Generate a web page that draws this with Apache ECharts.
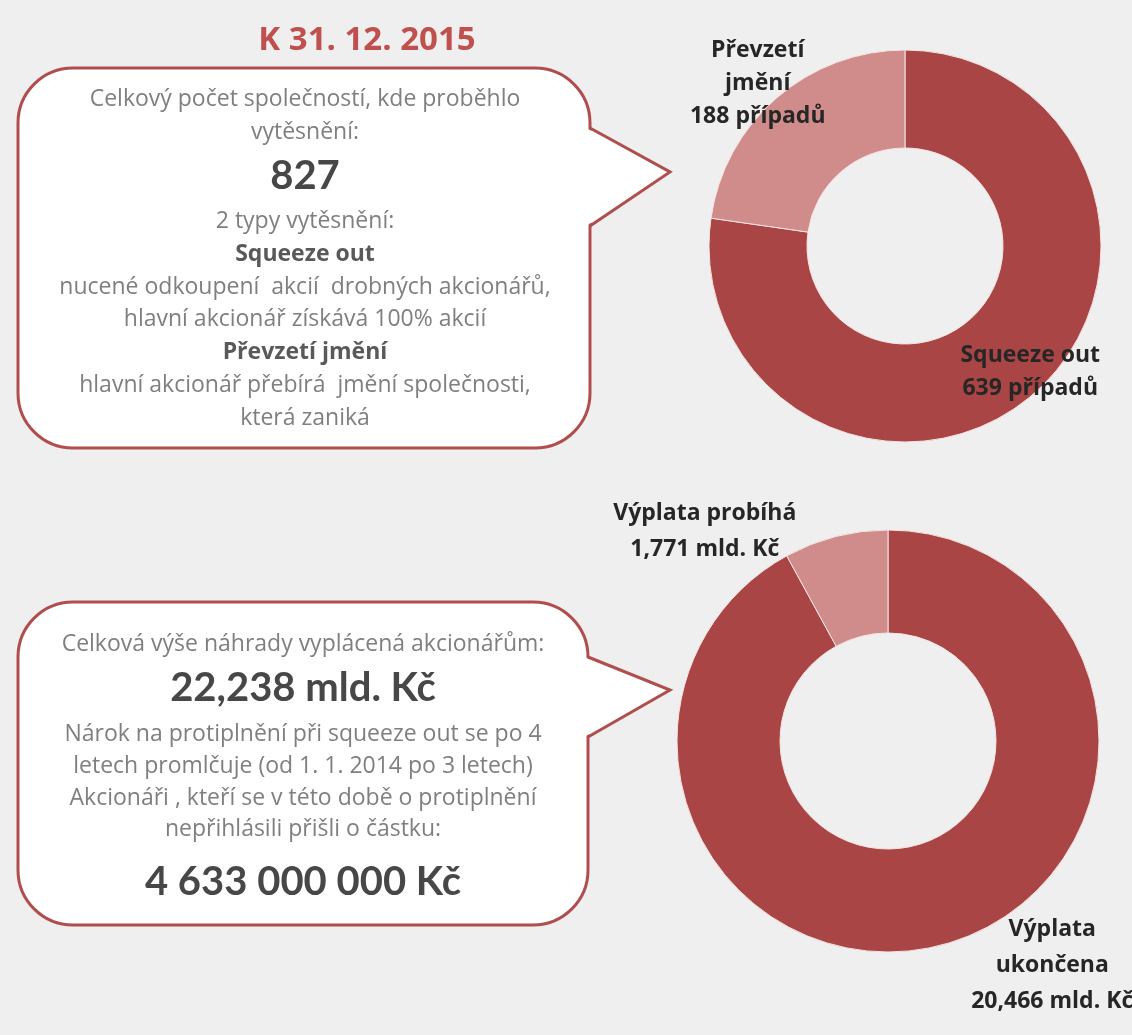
<!DOCTYPE html>
<html>
<head>
<meta charset="utf-8">
<script src="https://cdn.jsdelivr.net/npm/echarts@6/dist/echarts.min.js"></script>
<style>
html,body{margin:0;padding:0;background:#efefef;}
#chart{width:1132px;height:1035px;}
</style>
</head>
<body>
<div id="chart"></div>
<script>
// ---- data ----
const titleText = 'K 31. 12. 2015';
const typeNames = ['Squeeze out', 'Převzetí\njmění'];
const typeCounts = [639, 188];
const payoutNames = ['Výplata\nukončena', 'Výplata probíhá'];
const payoutValues = [20.466, 1.771];
const topCalloutLines = [
  'Celkový počet společností, kde proběhlo',
  'vytěsnění:',
  '827',
  '2 typy vytěsnění:',
  'Squeeze out',
  'nucené odkoupení  akcií  drobných akcionářů,',
  'hlavní akcionář získává 100% akcií',
  'Převzetí jmění',
  'hlavní akcionář přebírá  jmění společnosti,',
  'která zaniká'
];
const bottomCalloutLines = [
  'Celková výše náhrady vyplácená akcionářům:',
  '22,238 mld. Kč',
  'Nárok na protiplnění při squeeze out se po 4',
  'letech promlčuje (od 1. 1. 2014 po 3 letech)',
  'Akcionáři , kteří se v této době o protiplnění',
  'nepřihlásili přišli o částku:',
  '4 633 000 000 Kč'
];

// ---- layout / style ----
const FONT = '"Open Sans", Lato, sans-serif';
const BIGFONT = 'Lato, "Open Sans", sans-serif';
const DARK = '#a94544';
const LIGHT = '#d08c8b';
const BORDER = '#b04e4d';

const topKinds = ['n','n','big','n','b','n','n','b','n','n'];
const topYs = [99,132,176,221,254,287,319,352,385,418];
const botKinds = ['n','big','n','n','n','n','big'];
const botYs = [644,688,734,766,798,829,882];

function callout(x0,y0,x1,y1,r,p1,tx,ty,p2){
  return [
    {type:'rect', z:5, shape:{x:x0,y:y0,width:x1-x0,height:y1-y0,r:r},
     style:{fill:'#ffffff', stroke:BORDER, lineWidth:3}},
    {type:'polygon', z:6, shape:{points:[[x1-4,p1],[tx,ty],[x1-4,p2]]},
     style:{fill:'#ffffff'}},
    {type:'polyline', z:7, shape:{points:[[x1,p1],[tx,ty],[x1,p2]]},
     style:{fill:null, stroke:BORDER, lineWidth:3, lineJoin:'miter'}}
  ];
}

function textEls(lines, kinds, ys, cx){
  return lines.map(function(t,i){
    const kind = kinds[i];
    return {
      type:'text', z:10,
      style:{
        text:t, x:cx, y:ys[i], align:'center', verticalAlign:'middle',
        fontFamily: kind==='big'?BIGFONT:FONT,
        fontSize: kind==='big'?40:23,
        fontWeight: kind==='n'?'normal':'bold',
        fill: kind==='big'?'#474747':(kind==='b'?'#595959':'#7f7f7f')
      }
    };
  });
}

const graphics = []
 .concat(callout(18,68,590,448,55,128,670,172,226))
 .concat(callout(18,602,588,925,55,657,670,690,737))
 .concat(textEls(topCalloutLines, topKinds, topYs, 305))
 .concat(textEls(bottomCalloutLines, botKinds, botYs, 303));

const labelOffsetsTop = [[27,13],[-49,-49]];
const labelOffsetsBot = [[124,67],[-143,-52]];

const labelStyle = {
  show:true, position:'inside', color:'#262626', fontFamily:FONT,
  fontSize:23, fontWeight:'bold', lineHeight:33, align:'center',
  textBorderWidth:0
};

const chart = echarts.init(document.getElementById('chart'));
chart.setOption({
  backgroundColor:'#efefef',
  animation:false,
  title:{
    text:titleText, left:362, top:36, textAlign:'center', textVerticalAlign:'middle',
    textStyle:{color:'#c0504d', fontFamily:FONT, fontSize:33, fontWeight:'bold'}
  },
  graphic:{elements:graphics},
  series:[
    {
      type:'pie', center:[905,246], radius:[98,196], startAngle:90, clockwise:true,
      avoidLabelOverlap:false,
      itemStyle:{borderColor:'#f6e4e4', borderWidth:1},
      label:Object.assign({}, labelStyle, {
        formatter:function(p){ return p.name + '\n' + p.value + ' případů'; }
      }),
      labelLine:{show:false},
      labelLayout:function(p){ const o = labelOffsetsTop[p.dataIndex]; return {dx:o[0], dy:o[1]}; },
      data:typeNames.map(function(n,i){ return {name:n, value:typeCounts[i], itemStyle:{color: i===0?DARK:LIGHT}}; })
    },
    {
      type:'pie', center:[888,741], radius:[108,211], startAngle:90, clockwise:true,
      avoidLabelOverlap:false,
      itemStyle:{borderColor:'#f6e4e4', borderWidth:1},
      label:Object.assign({}, labelStyle, {
        lineHeight:36,
        formatter:function(p){ return p.name + '\n' + p.value.toFixed(3).replace('.', ',') + ' mld. Kč'; }
      }),
      labelLine:{show:false},
      labelLayout:function(p){ const o = labelOffsetsBot[p.dataIndex]; return {dx:o[0], dy:o[1]}; },
      data:payoutNames.map(function(n,i){ return {name:n, value:payoutValues[i], itemStyle:{color: i===0?DARK:LIGHT}}; })
    }
  ]
});
</script>
</body>
</html>
